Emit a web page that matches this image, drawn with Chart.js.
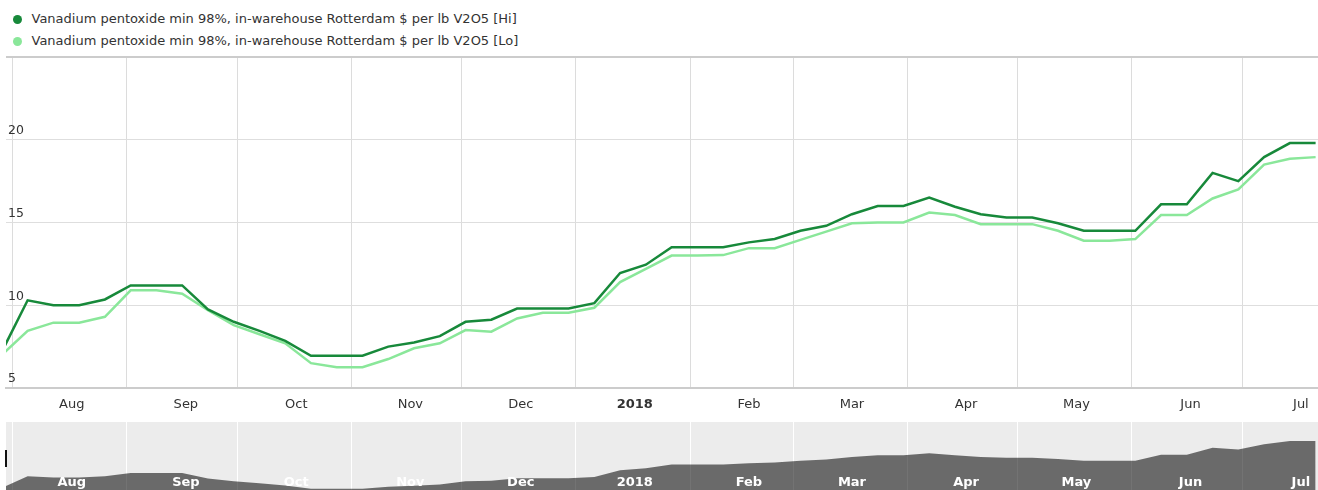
<!DOCTYPE html>
<html>
<head>
<meta charset="utf-8">
<script src="https://cdn.jsdelivr.net/npm/chart.js@4.4.0/dist/chart.umd.min.js"></script>
<style>
    html, body { margin: 0; padding: 0; background: #fff; overflow: hidden; }
    body { width: 1318px; height: 490px; position: relative; font-family: "DejaVu Sans", Verdana, sans-serif; }
    .legend-item { position: absolute; left: 12.5px; font-size: 13px; color: #333; line-height: 15px; white-space: nowrap; }
    .legend-item .dot { display: inline-block; width: 9px; height: 9px; border-radius: 50%; margin-right: 10px; vertical-align: -1px; }
    #main { position: absolute; left: 0; top: 50px; }
    #navBg { position: absolute; left: 6px; top: 422px; width: 1312px; height: 68px; background: #ececec; }
    #nav { position: absolute; left: 0; top: 422px; }
    #handle { position: absolute; left: 5px; top: 450px; width: 2px; height: 17px; background: #111; }
</style>
</head>
<body>
<div id="legend"></div>
<canvas id="main" width="1318" height="370"></canvas>
<div id="navBg"></div>
<canvas id="nav" width="1318" height="68"></canvas>
<div id="handle"></div>

<script>
// series names
const seriesNames = [
    "Vanadium pentoxide min 98%, in-warehouse Rotterdam $ per lb V2O5 [Hi]",
    "Vanadium pentoxide min 98%, in-warehouse Rotterdam $ per lb V2O5 [Lo]"
];
const seriesColors = ["#17893a", "#8ae79a"];

// weekly price dates
const dates = [
    "2017-07-29", "2017-08-05", "2017-08-12", "2017-08-19", "2017-08-26",
    "2017-09-02", "2017-09-09", "2017-09-16", "2017-09-23", "2017-09-30",
    "2017-10-07", "2017-10-14", "2017-10-21", "2017-10-28", "2017-11-04",
    "2017-11-11", "2017-11-18", "2017-11-25", "2017-12-02", "2017-12-09",
    "2017-12-16", "2017-12-23", "2017-12-30", "2018-01-06", "2018-01-13",
    "2018-01-20", "2018-01-27", "2018-02-03", "2018-02-10", "2018-02-17",
    "2018-02-24", "2018-03-03", "2018-03-10", "2018-03-17", "2018-03-24",
    "2018-03-31", "2018-04-07", "2018-04-14", "2018-04-21", "2018-04-28",
    "2018-05-05", "2018-05-12", "2018-05-19", "2018-05-26", "2018-06-02",
    "2018-06-09", "2018-06-16", "2018-06-23", "2018-06-30", "2018-07-07",
    "2018-07-14", "2018-07-21"
];

const hiValues = [
    7.2, 10.3, 10.0, 10.0, 10.35,
    11.2, 11.2, 11.2, 9.75, 9.0,
    8.45, 7.85, 6.95, 6.95, 6.95,
    7.5, 7.75, 8.13, 9.0, 9.13,
    9.8, 9.8, 9.8, 10.13, 11.95,
    12.45, 13.5, 13.5, 13.5, 13.8,
    14.0, 14.5, 14.8, 15.5, 16.0,
    16.0, 16.5, 15.95, 15.5, 15.3,
    15.3, 14.95, 14.5, 14.5, 14.5,
    16.1, 16.1, 18.0, 17.5, 18.95,
    19.8, 19.8
];

const loValues = [
    7.0, 8.45, 8.95, 8.95, 9.3,
    10.9, 10.9, 10.7, 9.7, 8.8,
    8.25, 7.7, 6.5, 6.25, 6.25,
    6.75, 7.4, 7.7, 8.5, 8.4,
    9.2, 9.55, 9.55, 9.85, 11.4,
    12.2, 13.0, 13.0, 13.03, 13.45,
    13.45, 13.95, 14.45, 14.95, 15.0,
    15.0, 15.6, 15.45, 14.9, 14.9,
    14.9, 14.5, 13.9, 13.9, 14.0,
    15.45, 15.45, 16.45, 17.0, 18.5,
    18.85, 18.95
];

// month grid lines; labels sit about mid-month
const monthStarts = [
    "2017-08-01", "2017-09-01", "2017-10-01", "2017-11-01", "2017-12-01", "2018-01-01",
    "2018-02-01", "2018-03-01", "2018-04-01", "2018-05-01", "2018-06-01", "2018-07-01"
];
const monthLabels = ["Aug", "Sep", "Oct", "Nov", "Dec", "2018", "Feb", "Mar", "Apr", "May", "Jun", "Jul"];
const yTicks = [5, 10, 15, 20, 25];

const toDay = s => Date.UTC(+s.slice(0, 4), +s.slice(5, 7) - 1, +s.slice(8, 10)) / 864e5;

const xMin = toDay("2017-07-30") + 0.12;
const xMax = toDay("2018-07-21") + 0.65;

const gridDays = monthStarts.map(toDay).filter(d => d >= xMin && d <= xMax);
const labelDays = monthStarts.map(s => toDay(s) + 16);

const points = vals => dates.map((d, i) => ({ x: toDay(d), y: vals[i] }));

// legend
const legend = document.getElementById("legend");
seriesNames.forEach((name, i) => {
    const item = document.createElement("div");
    item.className = "legend-item";
    item.style.top = (11 + i * 22) + "px";
    item.innerHTML = `<span class="dot" style="background:${seriesColors[i]}"></span>${name}`;
    legend.appendChild(item);
});

const family = "'DejaVu Sans', Verdana, sans-serif";
const labelFont = (size, base) => ctx => ({
    family: family,
    size: size,
    weight: ctx.tick && ctx.tick.label === "2018" ? "bold" : base
});

const noPadding = s => { s.paddingTop = 0; s.paddingBottom = 0; s.paddingLeft = 0; s.paddingRight = 0; };

function gridAxis(color, showBorder) {
    return {
        type: "linear",
        position: "bottom",
        min: xMin,
        max: xMax,
        weight: 0,
        afterBuildTicks: s => { s.ticks = gridDays.map(v => ({ value: v })); },
        afterFit: s => { s.height = 0; noPadding(s); },
        ticks: { display: false },
        grid: { color: color, lineWidth: 1, drawTicks: false },
        border: showBorder ? { display: true, color: "#cccccc", width: 2 } : { display: false }
    };
}

function labelAxis(position, color, padding, height, weight) {
    return {
        type: "linear",
        position: position,
        min: xMin,
        max: xMax,
        weight: 1,
        afterBuildTicks: s => { s.ticks = labelDays.map(v => ({ value: v })); },
        afterFit: s => { s.height = height; noPadding(s); },
        grid: { display: false, drawTicks: false },
        border: { display: false },
        ticks: {
            autoSkip: false,
            maxRotation: 0,
            color: color,
            padding: padding,
            font: labelFont(13, weight),
            z: 1,
            callback: (v, i) => monthLabels[i]
        }
    };
}

// main chart
new Chart(document.getElementById("main").getContext("2d"), {
    type: "line",
    data: {
        datasets: [
            { label: seriesNames[0], data: points(hiValues), borderColor: seriesColors[0], borderWidth: 2.5 },
            { label: seriesNames[1], data: points(loValues), borderColor: seriesColors[1], borderWidth: 2.5 }
        ]
    },
    options: {
        responsive: false,
        animation: false,
        clip: 0,
        layout: { padding: { top: 7, left: 0, right: 0, bottom: 0 } },
        elements: { point: { radius: 0 }, line: { tension: 0 } },
        plugins: { legend: { display: false }, tooltip: { enabled: false } },
        scales: {
            x: gridAxis("#dcdcdc", true),
            x2: labelAxis("bottom", "#333333", 9, 32, "normal"),
            y: {
                min: 5,
                max: 25,
                afterBuildTicks: s => { s.ticks = yTicks.map(v => ({ value: v })); },
                afterFit: s => { s.width = 6; noPadding(s); },
                border: { display: false },
                grid: {
                    drawTicks: false,
                    color: c => c.tick && c.tick.value === 25 ? "#cccccc" : "#dedede",
                    lineWidth: c => c.tick && c.tick.value === 25 ? 2 : 1
                },
                ticks: {
                    mirror: true,
                    padding: 2,
                    labelOffset: -9,
                    color: "#333333",
                    font: { family: family, size: 12.5 },
                    callback: v => v === 25 ? "" : v
                }
            }
        }
    }
});

// navigator
const navMin = 6.63;
new Chart(document.getElementById("nav").getContext("2d"), {
    type: "line",
    data: {
        datasets: [
            { data: points(hiValues), borderWidth: 0, fill: "start", backgroundColor: "rgba(0,0,0,0.55)" }
        ]
    },
    options: {
        responsive: false,
        animation: false,
        clip: 0,
        layout: { padding: { top: 0, left: 6, right: 0, bottom: 0 } },
        elements: { point: { radius: 0 }, line: { tension: 0 } },
        plugins: { legend: { display: false }, tooltip: { enabled: false } },
        scales: {
            x: gridAxis("#ffffff", false),
            x2: labelAxis({ y: navMin }, "#ffffff", -14.8, 0, "bold"),
            y: { display: false, min: navMin, max: 24.9 }
        }
    }
});
</script>
</body>
</html>
